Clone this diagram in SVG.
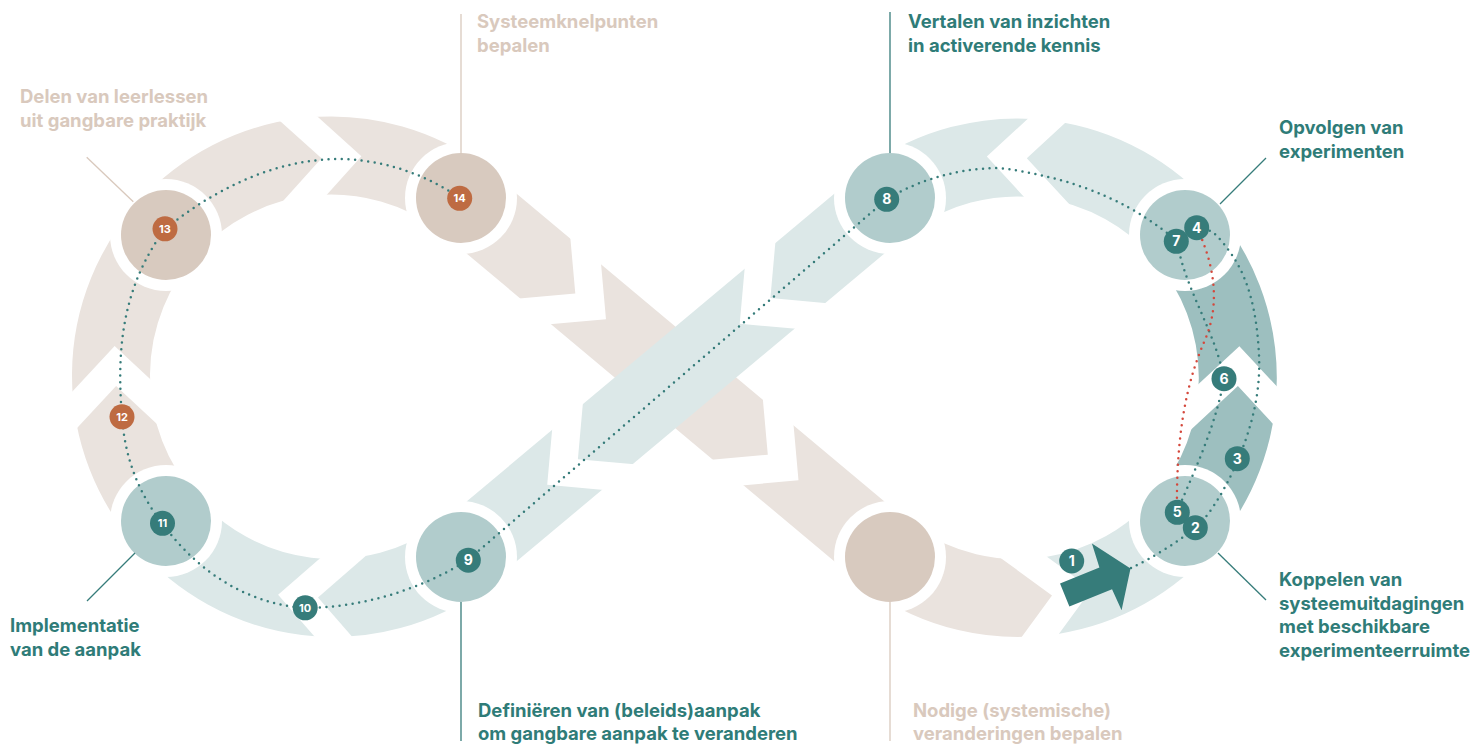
<svg xmlns="http://www.w3.org/2000/svg" xmlns:xlink="http://www.w3.org/1999/xlink" width="1475" height="744" viewBox="0 0 1475 744">
<defs>
<style>
.band{fill:none;stroke-width:78;stroke-linecap:butt}
.beigeband{stroke:#EAE3DE}
.tealband{stroke:#DCE8E8}
.darkband{stroke:#9DBFBF}
.gap{fill:#FFFFFF}
.halo{fill:#FFFFFF}
.nbeige{fill:#D8CABF}
.nteal{fill:#B1CCCC}
.dots{fill:none;stroke:#367C7A;stroke-width:2.5;stroke-linecap:round;stroke-dasharray:0 6.6}
.reddots{fill:none;stroke:#D4483C;stroke-width:2.5;stroke-linecap:round;stroke-dasharray:0 6.6}
.bt{fill:#367C7A}
.bo{fill:#BE6B42}
.num{fill:#FFFFFF;font-family:Inter,"Liberation Sans",sans-serif;font-weight:700;text-anchor:middle}
.n1{font-size:14px}
.n2{font-size:11px}
.lbl{font-family:Inter,"Liberation Sans",sans-serif;font-weight:700;font-size:18.5px}
.lt{fill:#2F7C78}
.lb{fill:#D9C9BD}
.leadt{stroke:#367C7A;stroke-width:1.3;fill:none}
.leadb{stroke:#D9C9BD;stroke-width:1.3;fill:none}
</style>
<polygon id="gap" points="-48,-48 0,0 -48,48 -8,48 40,0 -8,-48"/>
</defs>
<rect width="1475" height="744" fill="#FFFFFF"/>

<g id="bands">
<path class="band tealband" d="M461,557 A220,220 0 0 1 166,521"/>
<path class="band beigeband" d="M166,521 A220,220 0 0 1 461,198"/>
<path class="band tealband" d="M1185,235 A220,220 0 0 0 890,198"/>
<path class="band darkband" d="M1185,521 A220,220 0 0 0 1185,235"/>
<path class="band tealband" d="M1052,595.4 A220,220 0 0 0 1185,521"/>
<path class="band beigeband" d="M890,557 A220,220 0 0 0 1052,595.4"/>
<g class="gap">
<use xlink:href="#gap" href="#gap" transform="translate(321.5,158.3) rotate(-3)"/>
<use xlink:href="#gap" href="#gap" transform="translate(116.1,386) rotate(267.9)"/>
<use xlink:href="#gap" href="#gap" transform="translate(318,597.5) rotate(183.9)"/>
<use xlink:href="#gap" href="#gap" transform="translate(1052,595.4) rotate(-8.9)"/>
<use xlink:href="#gap" href="#gap" transform="translate(1237.9,386.1) rotate(-87.9)"/>
<use xlink:href="#gap" href="#gap" transform="translate(1026.8,158.2) rotate(-177.7)"/>
</g>
<path class="band beigeband" d="M461,198 L890,557"/>
<g class="gap">
<use xlink:href="#gap" href="#gap" transform="translate(575.3,293.6) rotate(39.9)"/>
<use xlink:href="#gap" href="#gap" transform="translate(767.8,454.7) rotate(39.9)"/>
</g>
<path class="band tealband" d="M890,198 L461,557"/>
<g class="gap">
<use xlink:href="#gap" href="#gap" transform="translate(770.4,298.1) rotate(140.1)"/>
<use xlink:href="#gap" href="#gap" transform="translate(577.9,459.2) rotate(140.1)"/>
</g>
</g>

<g id="node-13"><circle class="halo" cx="166" cy="235" r="56"/><circle class="nbeige" cx="166" cy="235" r="45"/></g>
<g id="node-14"><circle class="halo" cx="461" cy="198" r="56"/><circle class="nbeige" cx="461" cy="198" r="45"/></g>
<g id="node-11"><circle class="halo" cx="166" cy="521" r="56"/><circle class="nteal" cx="166" cy="521" r="45"/></g>
<g id="node-9"><circle class="halo" cx="461" cy="557" r="56"/><circle class="nteal" cx="461" cy="557" r="45"/></g>
<g id="node-8"><circle class="halo" cx="890" cy="198" r="56"/><circle class="nteal" cx="890" cy="198" r="45"/></g>
<g id="node-4"><circle class="halo" cx="1185" cy="235" r="56"/><circle class="nteal" cx="1185" cy="235" r="45"/></g>
<g id="node-2"><circle class="halo" cx="1185" cy="521" r="56"/><circle class="nteal" cx="1185" cy="521" r="45"/></g>
<g id="node-lr"><circle class="halo" cx="890" cy="557" r="56"/><circle class="nbeige" cx="890" cy="557" r="45"/></g>

<g id="arrow-1"><polygon fill="#367C7A" transform="translate(1064.7,595) rotate(-22)" points="0,-12.5 42.5,-12.5 44.5,-37.5 71,0 47,35.5 46,12.5 0,12.5"/></g>

<g id="leaders">
<line class="leadb" x1="86.7" y1="157.3" x2="133.3" y2="201.7"/>
<line class="leadb" x1="461" y1="14" x2="461" y2="153"/>
<line class="leadb" x1="890" y1="602" x2="890" y2="741"/>
<line class="leadt" x1="890" y1="12" x2="890" y2="153"/>
<line class="leadt" x1="1220" y1="204" x2="1266" y2="158"/>
<line class="leadt" x1="1218" y1="553" x2="1266" y2="600"/>
<line class="leadt" x1="135" y1="553" x2="87" y2="601"/>
<line class="leadt" x1="461" y1="602" x2="461" y2="741"/>
</g>

<g id="connectors">
<path class="dots" d="M1131,568 C1152,558 1178,542 1195,528 S1230,480 1240,455 S1261,395 1259,355 S1250,280 1230,252 S1208,232 1197,228"/>
<path class="dots" d="M1177,512 C1190,480 1215,430 1224,379 C1215,330 1185,290 1177,241"/>
<path class="reddots" d="M1197,228 C1212,260 1222,300 1205,340 C1185,385 1176,440 1177,512"/>
<path class="dots" d="M1177,241 C1140,210 1090,180 1000,168 C950,168 910,185 887,199 L468,560 C420,590 360,608 305,608 C250,604 200,575 162,523 C140,495 125,460 122,417 C117,355 120,290 165,229 C220,185 280,158 345,159 C395,162 430,178 460,198"/>
</g>

<g id="badges">
<g id="badge-1"><circle class="bt" cx="1071.7" cy="561" r="12.5"/><text class="num n1" x="1071.7" y="566">1</text></g>
<g id="badge-3"><circle class="bt" cx="1237.3" cy="458.7" r="12.5"/><text class="num n1" x="1237.3" y="463.7">3</text></g>
<g id="badge-5"><circle class="bt" cx="1177.3" cy="512.3" r="12.5"/><text class="num n1" x="1177.3" y="517.3">5</text></g>
<g id="badge-2"><circle class="bt" cx="1195.3" cy="527.7" r="12.5"/><text class="num n1" x="1195.3" y="532.7">2</text></g>
<g id="badge-6"><circle class="bt" cx="1224" cy="378.7" r="12.5"/><text class="num n1" x="1224" y="383.7">6</text></g>
<g id="badge-7"><circle class="bt" cx="1176.3" cy="241.3" r="12.5"/><text class="num n1" x="1176.3" y="246.3">7</text></g>
<g id="badge-4"><circle class="bt" cx="1196.7" cy="227.7" r="12.5"/><text class="num n1" x="1196.7" y="232.7">4</text></g>
<g id="badge-8"><circle class="bt" cx="886.7" cy="199.3" r="12.5"/><text class="num n1" x="886.7" y="204.3">8</text></g>
<g id="badge-9"><circle class="bt" cx="468.3" cy="560.2" r="12.5"/><text class="num n1" x="468.3" y="565.2">9</text></g>
<g id="badge-10"><circle class="bt" cx="305.2" cy="607.8" r="12.5"/><text class="num n2" x="305.2" y="611.8">10</text></g>
<g id="badge-11"><circle class="bt" cx="162.5" cy="523.3" r="12.5"/><text class="num n2" x="162.5" y="527.3">11</text></g>
<g id="badge-12"><circle class="bo" cx="122" cy="416.8" r="12.5"/><text class="num n2" x="122" y="420.8">12</text></g>
<g id="badge-13"><circle class="bo" cx="165" cy="228.8" r="12.5"/><text class="num n2" x="165" y="232.8">13</text></g>
<g id="badge-14"><circle class="bo" cx="459.7" cy="198.3" r="12.5"/><text class="num n2" x="459.7" y="202.3">14</text></g>
</g>

<g id="labels">
<text class="lbl lb" x="477" y="28">Systeemknelpunten<tspan x="477" y="52">bepalen</tspan></text>
<text class="lbl lt" x="908" y="28">Vertalen van inzichten<tspan x="908" y="52">in activerende kennis</tspan></text>
<text class="lbl lb" x="20" y="103">Delen van leerlessen<tspan x="20" y="127">uit gangbare praktijk</tspan></text>
<text class="lbl lt" x="1279" y="134">Opvolgen van<tspan x="1279" y="158">experimenten</tspan></text>
<text class="lbl lt" x="10" y="632">Implementatie<tspan x="10" y="656">van de aanpak</tspan></text>
<text class="lbl lt" x="478" y="717">Definiëren van (beleids)aanpak<tspan x="478" y="740">om gangbare aanpak te veranderen</tspan></text>
<text class="lbl lb" x="913" y="717">Nodige (systemische)<tspan x="913" y="740">veranderingen bepalen</tspan></text>
<text class="lbl lt" x="1279" y="586">Koppelen van<tspan x="1279" y="609.5">systeemuitdagingen</tspan><tspan x="1279" y="633">met beschikbare</tspan><tspan x="1279" y="656.5">experimenteerruimte</tspan></text>
</g>
</svg>
